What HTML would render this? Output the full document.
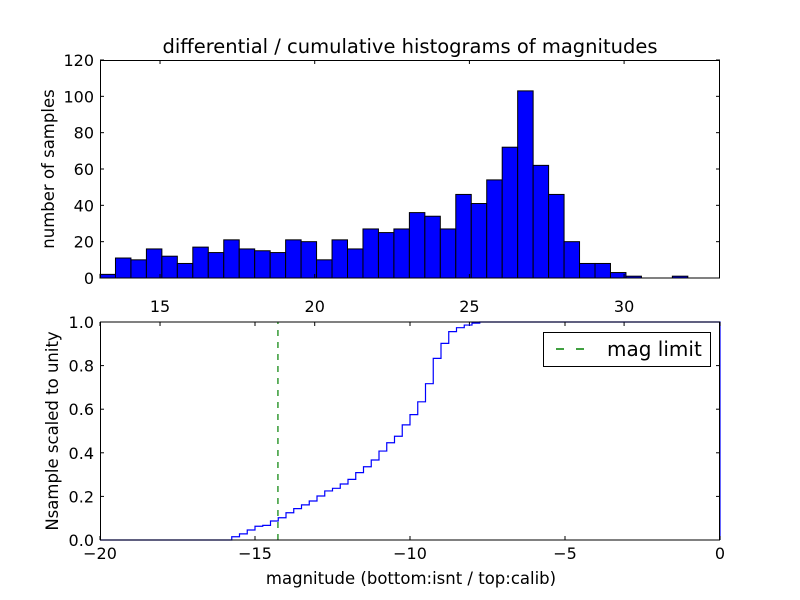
<!DOCTYPE html>
<html><head><meta charset="utf-8"><style>
body{margin:0;background:#fff}
svg{display:block;font-family:"DejaVu Sans","Liberation Sans",sans-serif}
</style></head><body>
<svg id="chart" width="800" height="600" viewBox="0 0 800 600" xmlns="http://www.w3.org/2000/svg">
<rect width="800" height="600" fill="#fff"/>
<text x="410" y="53" font-size="19.5" text-anchor="middle">differential / cumulative histograms of magnitudes</text>
<g id="topg"></g>
<g id="botg"></g>
<text x="54" y="169" font-size="16.5" text-anchor="middle" transform="rotate(-90 54 169)">number of samples</text>
<text x="58" y="431" font-size="16.5" text-anchor="middle" transform="rotate(-90 58 431)">Nsample scaled to unity</text>
<text x="411" y="584" font-size="16.5" text-anchor="middle">magnitude (bottom:isnt / top:calib)</text>
<g>
<rect x="543.5" y="332.5" width="167" height="34" fill="#fff" stroke="#000"/>
<line x1="556" y1="349" x2="584" y2="349" stroke="#008000" stroke-width="1.5" stroke-dasharray="8,12"/>
<text x="607" y="356" font-size="20">mag limit</text>
</g>
</svg>
<script>
const histCounts=[2,11,10,16,12,8,17,14,21,16,15,14,21,20,10,21,16,27,25,27,36,34,27,46,41,54,72,103,62,46,20,8,8,3,1,0,0,1];
const binStart=13.06, binWidth=0.5;
const topYTicks=[0,20,40,60,80,100,120];
const topXTicks=[15,20,25,30];
const cumStart=-15.75, cumStep=0.25;
const cumValues=[0.015,0.028,0.046,0.063,0.067,0.087,0.102,0.125,0.144,0.161,0.179,0.202,0.225,0.237,0.257,0.278,0.309,0.336,0.367,0.408,0.446,0.476,0.528,0.575,0.634,0.717,0.833,0.902,0.956,0.974,0.986,0.995,1.0];
const botXTicks=[-20,-15,-10,-5,0];
const botYTicks=[0,0.2,0.4,0.6,0.8,1.0];
const magLimit=-14.26;

const NS="http://www.w3.org/2000/svg";
function mk(tag,attrs,parent){const e=document.createElementNS(NS,tag);for(const k in attrs)e.setAttribute(k,attrs[k]);parent.appendChild(e);return e;}
const L=100,R=720;
const tx=v=>L+(v-13.06)/(33.1-13.06)*(R-L);
const ty=v=>278-v/120*218;
const bx=v=>L+(v+20)/20*(R-L);
const by=v=>540-v*218;

const topG=document.getElementById('topg');
histCounts.forEach((c,i)=>{
  const x0=tx(binStart+i*binWidth), x1=tx(binStart+(i+1)*binWidth);
  const r=mk('rect',{x:x0,y:ty(c),width:x1-x0,height:ty(0)-ty(c),fill:'#0000ff',stroke:'#000','stroke-width':1},topG);
  
  
});
const tf=mk('rect',{x:100.5,y:60.5,width:619,height:217.5,fill:'none',stroke:'#000','stroke-width':1},topG);


topYTicks.forEach(v=>{
  const y=ty(v);
  mk('line',{x1:L,y1:y,x2:L+4,y2:y,stroke:'#000'},topG);
  mk('line',{x1:R,y1:y,x2:R-4,y2:y,stroke:'#000'},topG);
  const t=mk('text',{x:L-6,y:y+6,'font-size':16,'text-anchor':'end'},topG);
  t.textContent=v;
  
  
});
topXTicks.forEach(v=>{
  const x=tx(v);
  mk('line',{x1:x,y1:278,x2:x,y2:274,stroke:'#000'},topG);
  mk('line',{x1:x,y1:60,x2:x,y2:64,stroke:'#000'},topG);
  mk('line',{x1:x,y1:322,x2:x,y2:326,stroke:'#000'},topG);
  const t=mk('text',{x:x,y:312,'font-size':16,'text-anchor':'middle'},topG);
  t.textContent=v;
  
  
});

const botG=document.getElementById('botg');
let d='M'+bx(-20)+','+by(0)+' L'+bx(cumStart)+','+by(0);
cumValues.forEach((v,i)=>{
  const x0=bx(cumStart+i*cumStep), x1=bx(cumStart+(i+1)*cumStep);
  d+=' L'+x0+','+by(v)+' L'+x1+','+by(v);
});
d+=' L'+bx(0)+','+by(1)+' L'+bx(0)+','+by(0);
const p=mk('path',{d:d,fill:'none',stroke:'#0000ff','stroke-width':1.2},botG);


const ml=mk('line',{x1:bx(magLimit),y1:by(0),x2:bx(magLimit),y2:by(1),stroke:'#008000','stroke-width':1.2,'stroke-dasharray':'6,6'},botG);


const bf=mk('rect',{x:100.5,y:322,width:619,height:218,fill:'none',stroke:'#000','stroke-width':1},botG);


botYTicks.forEach(v=>{
  const y=by(v);
  mk('line',{x1:L,y1:y,x2:L+4,y2:y,stroke:'#000'},botG);
  mk('line',{x1:R,y1:y,x2:R-4,y2:y,stroke:'#000'},botG);
  const t=mk('text',{x:L-6,y:y+6,'font-size':16,'text-anchor':'end'},botG);
  t.textContent=v.toFixed(1);
  
  
});
botXTicks.forEach(v=>{
  const x=bx(v);
  mk('line',{x1:x,y1:540,x2:x,y2:536,stroke:'#000'},botG);
  mk('line',{x1:x,y1:322,x2:x,y2:326,stroke:'#000'},botG);
  const t=mk('text',{x:x,y:559,'font-size':16,'text-anchor':'middle'},botG);
  t.textContent=v<0?'\u2212'+Math.abs(v):v;
  
  
});
</script>
</body></html>
